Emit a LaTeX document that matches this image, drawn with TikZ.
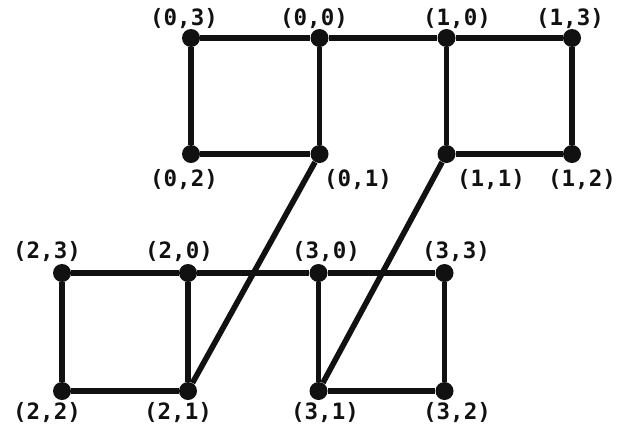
\documentclass[tikz,border=0pt]{standalone}
\usepackage{fontspec}
\usepackage{tikz}
\setmonofont{DejaVu Sans Mono}
\definecolor{inkdark}{HTML}{111111}

\tikzset{
  vtx/.style={circle, fill=inkdark, inner sep=0pt, minimum size=18*0.025cm},
  edge/.style={draw=inkdark, line width=4pt},
  lbl/.style={font=\fontsize{16}{18}\selectfont\ttfamily\bfseries, text=inkdark, inner sep=0pt}
}

\begin{document}
\begin{tikzpicture}[x=0.025cm, y=-0.025cm]
    \useasboundingbox (0,0) rectangle (623,429);

    % upper pair of squares
    \node[vtx] (v03) at (191, 38) {};
    \node[vtx] (v00) at (319.5, 38) {};
    \node[vtx] (v10) at (446.5, 38) {};
    \node[vtx] (v13) at (572, 38) {};
    \node[vtx] (v02) at (191, 154) {};
    \node[vtx] (v01) at (319.5, 154) {};
    \node[vtx] (v11) at (446.5, 154) {};
    \node[vtx] (v12) at (572, 154) {};

    % lower pair of squares
    \node[vtx] (v23) at (62, 273) {};
    \node[vtx] (v20) at (188, 273) {};
    \node[vtx] (v30) at (318.5, 273) {};
    \node[vtx] (v33) at (444.5, 273) {};
    \node[vtx] (v22) at (62, 391) {};
    \node[vtx] (v21) at (188, 391) {};
    \node[vtx] (v31) at (318.5, 391) {};
    \node[vtx] (v32) at (444.5, 391) {};

    % labels
    \node[lbl] (t03) at (184, 19) {(0,3)};
    \node[lbl] (t00) at (314, 19) {(0,0)};
    \node[lbl] (t10) at (457, 19) {(1,0)};
    \node[lbl] (t13) at (570, 19) {(1,3)};
    \node[lbl] (t02) at (184, 180) {(0,2)};
    \node[lbl] (t01) at (358, 180) {(0,1)};
    \node[lbl] (t11) at (491, 180) {(1,1)};
    \node[lbl] (t12) at (582, 180) {(1,2)};
    \node[lbl] (t23) at (47, 252) {(2,3)};
    \node[lbl] (t20) at (179, 252) {(2,0)};
    \node[lbl] (t30) at (326, 252) {(3,0)};
    \node[lbl] (t33) at (456, 252) {(3,3)};
    \node[lbl] (t22) at (47, 413) {(2,2)};
    \node[lbl] (t21) at (178, 413) {(2,1)};
    \node[lbl] (t31) at (325, 413) {(3,1)};
    \node[lbl] (t32) at (457, 413) {(3,2)};

    % edges
    \draw[edge] (v03) -- (v00) -- (v10) -- (v13);
    \draw[edge] (v03) -- (v02) -- (v01) -- (v00);
    \draw[edge] (v10) -- (v11) -- (v12) -- (v13);
    \draw[edge] (v23) -- (v20) -- (v30) -- (v33);
    \draw[edge] (v23) -- (v22) -- (v21) -- (v20);
    \draw[edge] (v30) -- (v31) -- (v32) -- (v33);
    \draw[edge] (v01) -- (v21);
    \draw[edge] (v11) -- (v31);
\end{tikzpicture}
\end{document}
